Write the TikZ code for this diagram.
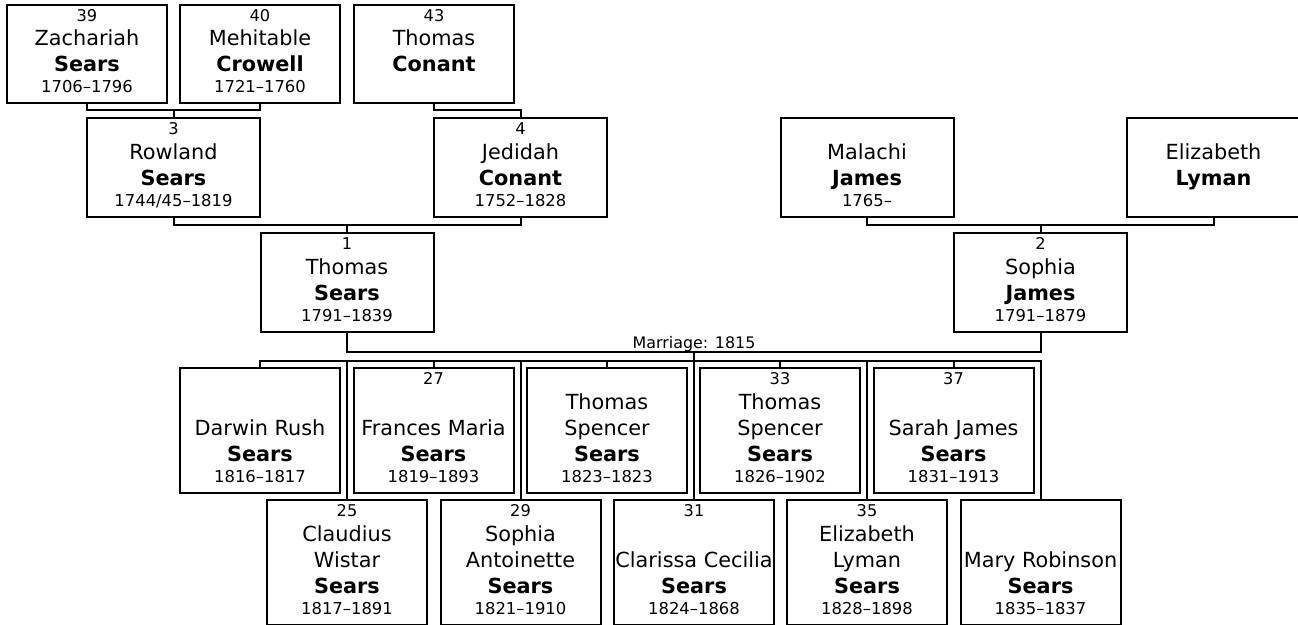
\documentclass[tikz,border=0pt]{standalone}
\usepackage{fontspec}
\setmainfont{DejaVu Sans}
\usepackage{tikz}

\tikzset{
  pbox/.style={draw, line width=2pt, inner sep=0pt, outer sep=0pt},
  topbox/.style={pbox, minimum width=160pt, minimum height=98pt},
  midbox/.style={pbox, minimum width=173pt, minimum height=99pt},
  kidbox/.style={pbox, minimum width=160pt, minimum height=125pt},
  num/.style={anchor=base, inner sep=0pt, font=\fontsize{16.2}{19}\selectfont, yshift=-16.5pt},
  nm/.style={anchor=south, align=center, text depth=0pt, inner sep=0pt, font=\fontsize{20.8}{26}\selectfont, yshift=31pt},
  yrs/.style={anchor=base, inner sep=0pt, font=\fontsize{16.4}{19}\selectfont, yshift=10.5pt},
  link/.style={line width=2pt},
}

\begin{document}
\begin{tikzpicture}[x=1pt, y=-1pt]

\useasboundingbox (0,0) rectangle (1298,624);

% grandparents
\node[topbox, label={[num]north:39}, label={[nm]south:{Zachariah\\\textbf{Sears}}}, label={[yrs]south:1706–1796}] (p39) at (87,54) {};
\node[topbox, label={[num]north:40}, label={[nm]south:{Mehitable\\\textbf{Crowell}}}, label={[yrs]south:1721–1760}] (p40) at (260,54) {};
\node[topbox, label={[num]north:43}, label={[nm]south:{Thomas\\\textbf{Conant}}}] (p43) at (434,54) {};

% parents
\node[midbox, label={[num]north:3}, label={[nm]south:{Rowland\\\textbf{Sears}}}, label={[yrs]south:1744/45–1819}] (p3) at (173.5,167.5) {};
\node[midbox, label={[num]north:4}, label={[nm]south:{Jedidah\\\textbf{Conant}}}, label={[yrs]south:1752–1828}] (p4) at (520.5,167.5) {};
\node[midbox, label={[nm]south:{Malachi\\\textbf{James}}}, label={[yrs]south:1765–}] (mal) at (867,167.5) {};
\node[midbox, label={[nm]south:{Elizabeth\\\textbf{Lyman}}}] (eliz) at (1213.5,167.5) {};

% couple
\node[midbox, label={[num]north:1}, label={[nm]south:{Thomas\\\textbf{Sears}}}, label={[yrs]south:1791–1839}] (p1) at (347,282) {};
\node[midbox, label={[num]north:2}, label={[nm]south:{Sophia\\\textbf{James}}}, label={[yrs]south:1791–1879}] (p2) at (1040.5,282) {};

% children, upper row
\node[kidbox, label={[nm]south:{Darwin Rush\\\textbf{Sears}}}, label={[yrs]south:1816–1817}] (k23) at (260,430.5) {};
\node[kidbox, label={[num]north:27}, label={[nm]south:{Frances Maria\\\textbf{Sears}}}, label={[yrs]south:1819–1893}] (k27) at (433.5,430.5) {};
\node[kidbox, label={[nm]south:{Thomas\\Spencer\\\textbf{Sears}}}, label={[yrs]south:1823–1823}] (k30) at (607,430.5) {};
\node[kidbox, label={[num]north:33}, label={[nm]south:{Thomas\\Spencer\\\textbf{Sears}}}, label={[yrs]south:1826–1902}] (k33) at (780,430.5) {};
\node[kidbox, label={[num]north:37}, label={[nm]south:{Sarah James\\\textbf{Sears}}}, label={[yrs]south:1831–1913}] (k37) at (953.5,430.5) {};

% children, lower row
\node[kidbox, label={[num]north:25}, label={[nm]south:{Claudius\\Wistar\\\textbf{Sears}}}, label={[yrs]south:1817–1891}] (k25) at (347,562.5) {};
\node[kidbox, label={[num]north:29}, label={[nm]south:{Sophia\\Antoinette\\\textbf{Sears}}}, label={[yrs]south:1821–1910}] (k29) at (520.5,562.5) {};
\node[kidbox, label={[num]north:31}, label={[nm]south:{Clarissa Cecilia\\\textbf{Sears}}}, label={[yrs]south:1824–1868}] (k31) at (694,562.5) {};
\node[kidbox, label={[num]north:35}, label={[nm]south:{Elizabeth\\Lyman\\\textbf{Sears}}}, label={[yrs]south:1828–1898}] (k35) at (867,562.5) {};
\node[kidbox, label={[nm]south:{Mary Robinson\\\textbf{Sears}}}, label={[yrs]south:1835–1837}] (k39) at (1040.5,562.5) {};

% family lines
\coordinate (j3) at (173.5,110);
\coordinate (j4) at (520.5,110);
\coordinate (j1) at (347,225);
\coordinate (j2) at (1040.5,225);
\coordinate (wed) at (694,352);
\coordinate (bus) at (694,361);

\draw[link] (p39.south) |- (j3) -| (p40.south);
\draw[link] (j3) -- (p3.north);
\draw[link] (p43.south) |- (j4) -- (p4.north);
\draw[link] (p3.south) |- (j1) -| (p4.south);
\draw[link] (j1) -- (p1.north);
\draw[link] (mal.south) |- (j2) -| (eliz.south);
\draw[link] (j2) -- (p2.north);
\draw[link] (p1.south) |- (wed) -| (p2.south);
\node[anchor=base, inner sep=0pt, font=\fontsize{15.9}{18}\selectfont] (mar) at (694,348) {Marriage: 1815};

\draw[link] (wed) -- (k31.north);
\draw[link] (k23.north) |- (bus) -| (k39.north);
\draw[link] (k27.north) -- (k27.north |- bus);
\draw[link] (k30.north) -- (k30.north |- bus);
\draw[link] (k33.north) -- (k33.north |- bus);
\draw[link] (k37.north) -- (k37.north |- bus);
\draw[link] (k25.north) -- (k25.north |- bus);
\draw[link] (k29.north) -- (k29.north |- bus);
\draw[link] (k35.north) -- (k35.north |- bus);

\end{tikzpicture}
\end{document}
